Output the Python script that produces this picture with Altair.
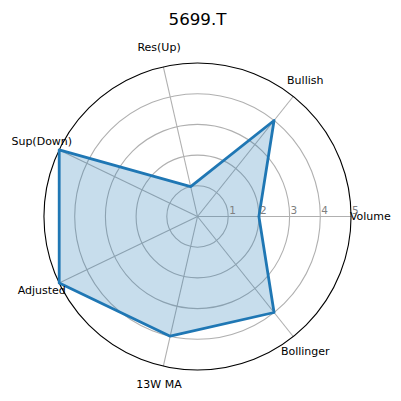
import math
import altair as alt
import pandas as pd

# ---- data ----
categories = ["Volume", "Bullish", "Res(Up)", "Sup(Down)", "Adjusted", "13W MA", "Bollinger"]
values = [2, 4, 1, 5, 5, 4, 4]
grid_levels = [1, 2, 3, 4]
outer_level = [5]
tick_values = [1, 2, 3, 4, 5]
tick_labels = ["1", "2", "3", "4", "5"]
title_text = "5699.T"

N = len(categories)
R_MAX = 5
LABEL_R = 5.63
W = 307
FONT = "DejaVu Sans"
BLUE = "#1f77b4"
GRID = "#b0b0b0"

df = pd.DataFrame({"cat": categories, "value": values, "idx": list(range(N))})
spokes = pd.DataFrame({"idx": list(range(N)), "r": [R_MAX] * N})
rings = pd.DataFrame({"level": grid_levels})
outer = pd.DataFrame({"level": outer_level})
ticks = pd.DataFrame({"v": tick_values, "lab": tick_labels})
title_df = pd.DataFrame({"t": [title_text]})

xs = alt.Scale(domain=[-R_MAX, R_MAX], range=[0, W])
ys = alt.Scale(domain=[-R_MAX, R_MAX], range=[W, 0])
rs = alt.Scale(type="linear", domain=[0, R_MAX], range=[0, W / 2], zero=True)

ang = f"datum.idx * 2 * PI / {N}"

ring_layer = alt.Chart(rings).mark_arc(filled=False, stroke=GRID, strokeWidth=1.1).encode(
    radius=alt.Radius("level:Q", scale=rs, stack=None),
    theta=alt.value(0),
    theta2=alt.value(2 * math.pi),
)

outer_layer = alt.Chart(outer).mark_arc(filled=False, stroke="black", strokeWidth=1.1).encode(
    radius=alt.Radius("level:Q", scale=rs, stack=None),
    theta=alt.value(0),
    theta2=alt.value(2 * math.pi),
)

spoke_layer = alt.Chart(spokes).transform_calculate(
    x0="0", y0="0",
    x1=f"datum.r * cos({ang})", y1=f"datum.r * sin({ang})",
).mark_rule(color=GRID, strokeWidth=1.1).encode(
    x=alt.X("x0:Q", scale=xs, axis=None),
    y=alt.Y("y0:Q", scale=ys, axis=None),
    x2="x1:Q",
    y2="y1:Q",
)

poly_layer = alt.Chart(df).transform_calculate(
    px=f"datum.value * cos({ang})", py=f"datum.value * sin({ang})",
).mark_line(
    interpolate="linear-closed", stroke=BLUE, strokeWidth=2.8, strokeJoin="round",
    fill=BLUE, fillOpacity=0.25,
).encode(
    x=alt.X("px:Q", scale=xs, axis=None),
    y=alt.Y("py:Q", scale=ys, axis=None),
    order="idx:Q",
)

label_layer = alt.Chart(df).transform_calculate(
    lx=f"{LABEL_R} * cos({ang})", ly=f"{LABEL_R} * sin({ang})",
).mark_text(font=FONT, fontSize=11, color="black", align="center", baseline="middle").encode(
    x=alt.X("lx:Q", scale=xs, axis=None),
    y=alt.Y("ly:Q", scale=ys, axis=None),
    text="cat:N",
)

tick_layer = alt.Chart(ticks).transform_calculate(ty="0").mark_text(
    font=FONT, fontSize=10.5, color="#808080", align="left", baseline="bottom", dx=1, dy=-1,
).encode(
    x=alt.X("v:Q", scale=xs, axis=None),
    y=alt.Y("ty:Q", scale=ys, axis=None),
    text="lab:N",
)

title_layer = alt.Chart(title_df).mark_text(
    font=FONT, fontSize=16.7, color="black", align="center", baseline="alphabetic",
).encode(
    x=alt.value(W / 2),
    y=alt.value(-38.5),
    text="t:N",
)

chart = alt.layer(
    ring_layer, spoke_layer, outer_layer, poly_layer, label_layer, tick_layer, title_layer
).properties(
    width=W, height=W,
    autosize=alt.AutoSizeParams(type="none"),
    padding={"left": 36, "top": 55, "right": 42, "bottom": 23},
).configure_view(stroke=None)

chart.save("out.html", embed_options={"renderer": "svg", "actions": False})
